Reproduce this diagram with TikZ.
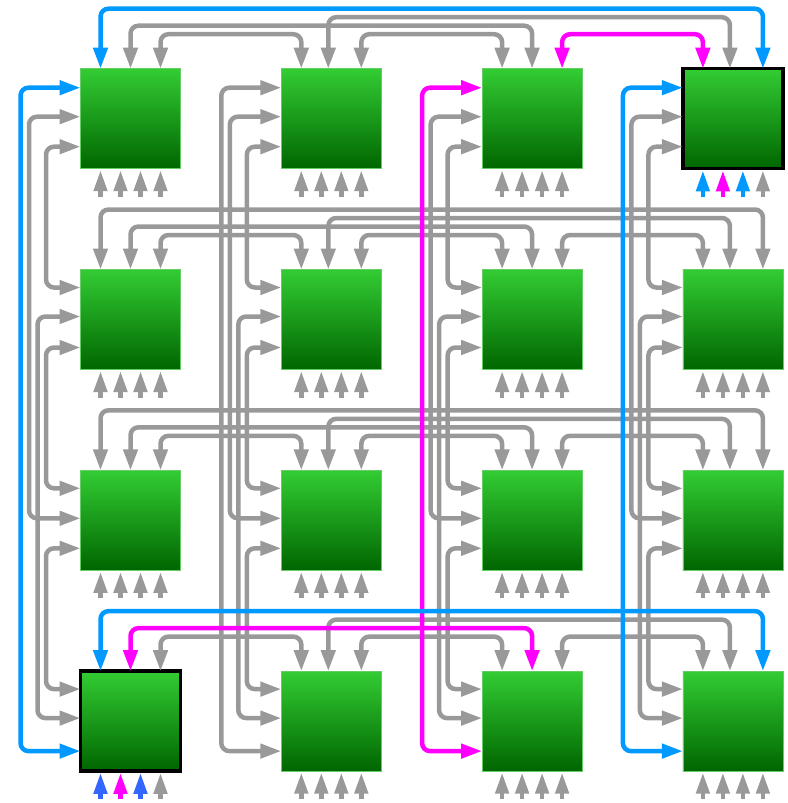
\documentclass[tikz,border=0pt]{standalone}
\usetikzlibrary{arrows.meta,calc}
\definecolor{linegray}{HTML}{999999}
\definecolor{lineblue}{HTML}{0099FF}
\definecolor{linemag}{HTML}{FF00FF}
\definecolor{feedblue}{HTML}{3366FF}
\definecolor{gtop}{HTML}{33CC33}
\definecolor{gbot}{HTML}{006600}
\definecolor{gedge}{HTML}{66CC66}
\newcommand\myrowlink[7]{\draw[link,#1] ($(b#3#2.north west)+(#4,0)$) -- ++(0,#7) -| ($(b#5#2.north west)+(#6,0)$);}
\newcommand\mycollink[7]{\draw[link,#1] ($(b#2#3.north west)+(0,#4)$) -- ++(#7,0) |- ($(b#2#5.north west)+(0,#6)$);}
\begin{document}
\begin{tikzpicture}[x=1pt,y=-1pt,
  box/.style={minimum size=100pt, inner sep=0pt, outer sep=0pt, top color=gtop, bottom color=gbot, draw=gedge, line width=0.8pt},
  hibox/.style={box, draw=black, line width=3.3pt},
  link/.style={line width=4.5pt, rounded corners=8pt, {Triangle[length=21pt,width=14pt]}-{Triangle[length=21pt,width=14pt]}},
  feed/.style={line width=4.5pt, -{Triangle[length=21pt,width=13pt]}}]
\useasboundingbox (0,0) rectangle (787,803);
% boxes
\foreach \ci/\ri/\st in {0/0/box,1/0/box,2/0/box,3/0/hibox,
                         0/1/box,1/1/box,2/1/box,3/1/box,
                         0/2/box,1/2/box,2/2/box,3/2/box,
                         0/3/hibox,1/3/box,2/3/box,3/3/box}
  \node[\st] (b\ci\ri) at ({130.5+200.8*\ci},{118.7+200.8*\ri}) {};
% gray row links
\foreach \ri in {0,1,2,3} {
  \myrowlink{linegray}{\ri}{1}{47}{3}{47}{-51.5}
  \myrowlink{linegray}{\ri}{0}{80}{1}{20}{-34.5}
  \myrowlink{linegray}{\ri}{1}{80}{2}{20}{-34.5}
}
\foreach \ri in {0,1,2} {\myrowlink{linegray}{\ri}{0}{50}{2}{50}{-43}}
\foreach \ri in {1,2,3} {\myrowlink{linegray}{\ri}{2}{80}{3}{20}{-34.5}}
\foreach \ri in {1,2} {\myrowlink{linegray}{\ri}{0}{20}{3}{80}{-60}}
% gray column links
\foreach \ci in {0,1,2,3} {
  \mycollink{linegray}{\ci}{0}{48}{2}{48}{-51.5}
  \mycollink{linegray}{\ci}{1}{47}{3}{47}{-43}
  \mycollink{linegray}{\ci}{0}{78}{1}{18}{-34.5}
  \mycollink{linegray}{\ci}{1}{78}{2}{18}{-34.5}
  \mycollink{linegray}{\ci}{2}{78}{3}{18}{-34.5}
}
\mycollink{linegray}{1}{0}{19}{3}{80}{-60}
% coloured links
\myrowlink{linemag}{0}{2}{80}{3}{20}{-34.5}
\mycollink{linemag}{2}{0}{19}{3}{80}{-60}
\myrowlink{linemag}{3}{0}{50}{2}{50}{-43}
\mycollink{lineblue}{0}{0}{19}{3}{80}{-60}
\mycollink{lineblue}{3}{0}{19}{3}{80}{-60}
\myrowlink{lineblue}{0}{0}{20}{3}{80}{-60}
\myrowlink{lineblue}{3}{0}{20}{3}{80}{-60}
% feed arrows under boxes
\foreach \ci/\ri in {0/0,1/0,2/0,0/1,1/1,2/1,3/1,0/2,1/2,2/2,3/2,1/3,2/3,3/3}
  \foreach \k in {20,40,60,80}
    \draw[feed,linegray] ($(b\ci\ri.south west)+(\k,28)$) -- ($(b\ci\ri.south west)+(\k,1.5)$);
\foreach \k/\col in {20/lineblue,40/linemag,60/lineblue,80/linegray}
  \draw[feed,\col] ($(b30.south west)+(\k,28)$) -- ($(b30.south west)+(\k,1.7)$);
\foreach \k/\col in {20/feedblue,40/linemag,60/feedblue,80/linegray}
  \draw[feed,\col] ($(b03.south west)+(\k,28)$) -- ($(b03.south west)+(\k,1.7)$);
\end{tikzpicture}
\end{document}
